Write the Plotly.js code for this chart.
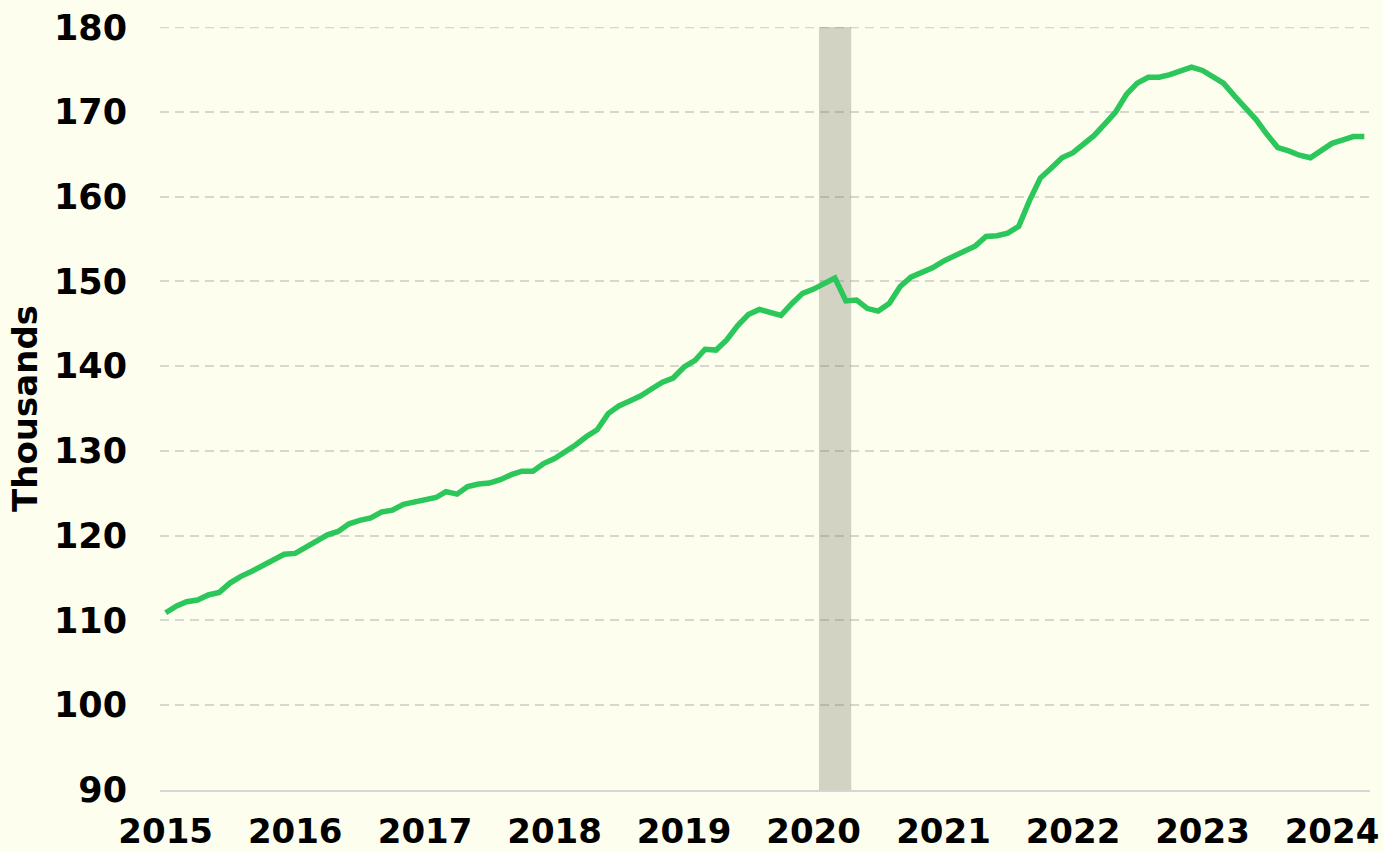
<!DOCTYPE html>
<html>
<head>
<meta charset="utf-8">
<script src="https://cdn.plot.ly/plotly-3.0.1.min.js"></script>
<style>html,body{margin:0;padding:0;background:#fefeee;}#chart{width:1383px;height:852px;}</style>
</head>
<body>
<div id="chart"></div>
<script>
// Monthly series, January 2015 through April 2024 (thousands)
const startYear = 2015;
const values = [
  110.9, 111.7, 112.2, 112.4, 113.0, 113.3, 114.4, 115.2, 115.8, 116.4, 117.2, 117.8,
  117.9, 118.6, 119.3, 120.1, 120.5, 121.4, 121.8, 122.1, 122.8, 123.0, 123.7, 124.0,
  124.2, 124.5, 125.2, 124.9, 125.8, 126.1, 126.2, 126.6, 127.2, 127.6, 127.6, 128.5,
  129.1, 129.9, 130.7, 131.7, 132.5, 134.4, 135.3, 135.9, 136.5, 137.3, 138.1, 138.6,
  139.9, 140.7, 142.0, 141.9, 143.1, 144.8, 146.1, 146.7, 146.4, 146.0, 147.4, 148.6,
  149.1, 149.7, 150.4, 147.7, 147.8, 146.8, 146.5, 147.4, 149.4, 150.5, 151.0, 151.6,
  152.4, 153.0, 153.5, 154.2, 155.3, 155.4, 155.7, 156.5, 159.6, 162.2, 163.4, 164.6,
  165.2, 166.3, 167.2, 168.6, 170.0, 172.1, 173.4, 174.1, 174.1, 174.4, 174.9, 175.3,
  174.9, 174.2, 173.4, 171.9, 170.6, 169.1, 167.4, 165.8, 165.4, 164.9, 164.6, 165.5,
  166.3, 166.7, 167.1, 167.1
];
const yearTicks = [2015, 2016, 2017, 2018, 2019, 2020, 2021, 2022, 2023, 2024];
const yTicks = [90, 100, 110, 120, 130, 140, 150, 160, 170, 180];
const yMin = 90, yMax = 180;
const recession = ['2020-01-16', '2020-04-16'];
const yTitle = 'Thousands';

function pad(n){ return (n < 10 ? '0' : '') + n; }
const dates = values.map((v, i) => {
  const y = startYear + Math.floor(i / 12);
  const m = (i % 12) + 1;
  return y + '-' + pad(m) + '-01';
});

const fontFam = '"DejaVu Sans", Verdana, sans-serif';
const gridCol = 'rgba(110,110,130,0.27)';
const gridDash = '9px,6px';

const trace = {
  x: dates,
  y: values,
  type: 'scatter',
  mode: 'lines',
  line: { color: '#2bc75a', width: 5.5 },
  hoverinfo: 'x+y'
};

const layout = {
  width: 1383,
  height: 852,
  margin: { l: 160, r: 13, t: 27, b: 62 },
  paper_bgcolor: '#fefeee',
  plot_bgcolor: '#fefeee',
  showlegend: false,
  font: { family: fontFam, color: '#000000', size: 35, weight: 'bold' },
  xaxis: {
    type: 'date',
    range: ['2014-12-16', '2024-04-17'],
    tickmode: 'array',
    tickvals: yearTicks.map(y => y + '-01-01'),
    ticktext: yearTicks.map(String),
    showgrid: false,
    zeroline: false,
    showline: true,
    linecolor: '#d6d6d6',
    linewidth: 2,
    ticks: '',
    ticklabelstandoff: 10,
    tickfont: { family: fontFam, size: 34, color: '#000000', weight: 'bold' },
    fixedrange: true
  },
  yaxis: {
    range: [yMin - 0.02, yMax + 0.03],
    tickmode: 'array',
    tickvals: yTicks,
    ticktext: yTicks.map(String),
    showgrid: true,
    gridcolor: gridCol,
    gridwidth: 2,
    griddash: gridDash,
    zeroline: false,
    showline: false,
    ticks: '',
    ticklabelstandoff: 32,
    tickfont: { family: fontFam, size: 35, color: '#000000', weight: 'bold' },
    title: { text: yTitle, font: { family: fontFam, size: 34, color: '#000000', weight: 'bold' }, standoff: 6 },
    fixedrange: true
  },
  shapes: [{
    type: 'rect',
    xref: 'x', yref: 'paper',
    x0: recession[0], x1: recession[1],
    y0: 0, y1: 1,
    fillcolor: '#d3d3c4',
    line: { width: 0 },
    layer: 'below'
  }, {
    type: 'line',
    xref: 'paper', yref: 'y',
    x0: 0, x1: 1,
    y0: yMax, y1: yMax,
    line: { color: gridCol, width: 2, dash: gridDash },
    layer: 'above'
  }]
};

Plotly.newPlot('chart', [trace], layout, { displayModeBar: false, staticPlot: true });
</script>
</body>
</html>
